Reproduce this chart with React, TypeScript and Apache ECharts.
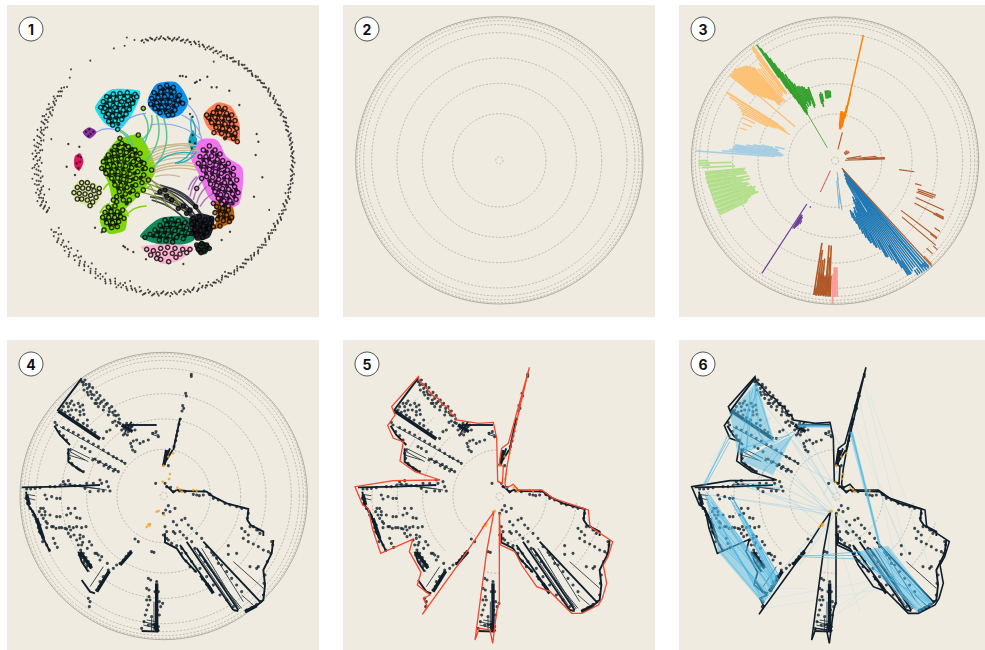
import React, { useEffect, useRef } from "react";
import * as echarts from "echarts";

type P = [number, number];

const panelLabels = ["1", "2", "3", "4", "5", "6"];
const ringRadii = [11, 140, 231, 307, 383, 407, 419, 427];
const outerRadius = 431;

// ---- panel 1: network
const looseNodes: [number, number][] = [
  [350,378],[351,372],[352,381],[353,376],[354,384],[355,379],[356,375],[357,383],[358,378],[359,386],[0,381],[1,376],[2,384],[3,379],[4,374],[5,383],[6,378],[7,386],[8,376],[9,381],[10,373],[11,383],[12,377],[13,371],[14,382],[15,376],[16,385],[17,372],[18,380],[19,375],[20,369],[21,381],[22,374],[23,383],[24,369],[25,378],[26,372],[27,382],[28,367],[29,376],[30,381],[31,371],[32,378],[33,384],[34,374],[35,379],[36,385],[37,376],[38,382],[39,387],[40,378],[41,384],[42,379],[43,386],[44,382],[45,378],[46,385],[47,388],[48,380],[49,386],[50,383],[51,389],[52,380],[53,386],[54,391],[55,383],[56,388],[57,381],[58,392],[59,385],[60,390],[61,382],[62,387],[63,393],[64,384],[65,389],[66,392],[67,382],[68,388],[69,394],[70,384],[71,390],[72,386],[73,392],[74,383],[75,388],[76,394],[77,385],[78,391],[79,388],[80,393],[81,384],[82,390],[83,386],[84,393],[85,388],[86,384],[87,391],[88,387],[89,394],[90,385],[91,390],[92,382],[93,388],[94,393],[95,384],[96,389],[97,385],[98,392],[99,379],[100,387],[101,383],[102,390],[103,376],[104,386],[105,392],[106,382],[107,388],[108,378],[109,385],[110,391],[111,381],[112,387],[113,377],[114,384],[115,390],[116,380],[117,386],[118,375],[119,383],[120,389],[121,379],[122,385],[123,375],[124,382],[125,388],[126,377],[127,384],[128,390],[129,380],[130,386],[131,376],[132,383],[133,389],[134,379],[135,385],[136,378],[137,388],[138,382],[139,375],[140,386],[141,379],[142,390],[143,383],[144,376],[145,387],[146,381],[147,391],[148,384],[149,378],[150,388],[151,382],[152,376],[153,386],[154,392],[155,380],[156,387],[157,383],[158,391],[159,376],[160,385],[161,389],[162,381],[163,371],[164,386],[165,392],[166,379],[167,385],[168,390],[169,381],[170,387],[171,393],[172,378],[173,384],[174,390],[175,381],[176,388],[177,394],[178,383],[179,389],[180,379],[181,385],[182,392],[183,381],[184,387],[185,393],[186,382],[187,377],[188,388],[189,394],[190,383],[191,373],[192,389],[193,380],[194,386],[195,376],[196,391],[197,382],[198,372],[199,388],[200,378],[201,393],[202,384],[203,370],[204,389],[205,379],[206,395],[207,385],[208,368],[209,390],[210,378],[211,395],[212,384],[213,372],[214,391],[215,380],[216,365],[217,395],[218,385],[219,374],[220,393],[221,381],[222,369],[223,390],[224,377],[225,364],[226,395],[227,384],[228,372],[229,392],[230,380],[231,366],[232,389],[233,376],[234,394],[235,384],[236,370],[237,392],[238,380],[239,366],[240,388],
  [248,378],[248.7,372],[249.4,366],[250,383],[251,375],[251.7,389],[252.4,369],[253,381],[254,393],[254.6,374],[255.3,385],[256,368],[257,378],[257.7,391],[258.5,373],[259,384],[260,366],[261,378],[261.6,390],[262.4,371],[263,383],[264,395],[264.6,364],[265.3,376],[266,387],[267,369],[268,381],[268.6,393],[269.4,374],[270,385],[271,365],[272,378],[272.6,390],[273.4,370],[274,382],[275,394],[275.6,375],[276.4,386],[277,366],[278,379],[278.6,391],[279.4,372],[280,384],[281,395],[281.6,367],[282.4,377],[283,388],[284,370],[285,381],[285.6,392],[286.4,374],[287,384],[288,366],[289,377],[289.6,388],[290.4,370],[291,380],[292,391],[292.6,373],[293.4,383],[294,366],[295,376],[295.6,387],[296.4,370],[297,380],[298,389],[299,372],[300,381],[301,375],[302,388],[303,379],[304,370],[305,384],[306,376],[307,383],[308,378],[309,372],
  [313,384],[316,399],[325,382],[337,380],[342,376],[344,398],[347,385],
  [26,345],[113,345],[150,370],[196,362],[258,350],[283,345]
];
const looseNodesDense: [number, number][] = [
  [350.5,380],[352.5,378],[354.5,381],[356.5,378],[358.5,381],[0.5,378],[2.5,380],[4.5,378],[6.5,381],[8.5,378],[10.5,380],[12.5,378],[14.5,379],[16.5,377],[18.5,378],[20.5,376],[22.5,378],[24.5,375],[26.5,378],[28.5,374],[30.5,377],[32.5,380],[34.5,377],[36.5,380],[38.5,383],[40.5,381],[42.5,383],[44.5,380],[46.5,383],[48.5,384],[50.5,386],[52.5,384],[54.5,387],[56.5,385],[58.5,387],[60.5,386],[62.5,389],[64.5,387],[66.5,386],[68.5,390],[70.5,388],[72.5,389],[74.5,386],[76.5,389],[78.5,387],[80.5,389],[82.5,388],[84.5,389],[86.5,388],[88.5,389],[90.5,387],[92.5,386],[94.5,388],[96.5,387],[98.5,386],[100.5,385],[102.5,384],[104.5,387],[106.5,385],[108.5,383],[110.5,386],[112.5,384],[114.5,387],[116.5,383],[118.5,381],[120.5,384],[122.5,381],[124.5,385],[126.5,381],[128.5,385],[130.5,381],[132.5,385],[134.5,382],[136.5,384],[138.5,379],[140.5,383],[142.5,386],[144.5,382],[146.5,385],[148.5,381],[150.5,384],[152.5,381],[154.5,386],[156.5,384],[158.5,386],[160.5,383],[162.5,385],[164.5,389],[166.5,383],[168.5,386],[170.5,384],[172.5,381],[174.5,386],[176.5,384],[178.5,386],[180.5,383],[182.5,387],[184.5,390],[186.5,386],[188.5,391],[190.5,386],[192.5,384],[194.5,382],[196.5,387],[198.5,380],[200.5,385],[202.5,378],[204.5,383],[206.5,390],[208.5,381],[210.5,386],[212.5,379],[214.5,386],[216.5,378],[218.5,381],[220.5,387],[222.5,376],[224.5,383],[226.5,390],[228.5,380],[230.5,386],[232.5,382],[234.5,389],[236.5,377],[238.5,385],
  [248.3,375],[250.5,379],[252,385],[253.5,376],[255,380],[256.5,384],[258,378],[259.5,372],[261,384],[262.7,377],[264,370],[265.7,381],[267.5,375],[269,387],[270.5,379],[272.3,372],[273.7,385],[275.3,381],[276.8,372],[278.3,385],[279.7,378],[281.3,374],[282.7,382],[284.5,376],[286,380],[287.5,371],[289.3,382],[291,375],[292.3,386],[294.5,372],[296,382],[297.5,375],[299.5,377],[301.5,382],[303.5,375],[305.5,380]
];
const cyanNodes: P[] = [[320,290],[340,282],[360,280],[382,278],[405,283],[310,305],[330,300],[350,298],[372,296],[392,298],[410,290],[302,322],[320,318],[340,316],[360,314],[380,314],[398,310],[310,335],[330,332],[350,332],[370,330],[388,328],[318,350],[338,348],[358,346],[378,342],[326,364],[345,362],[365,358],[338,375],[353,388],[315,325],[345,322],[365,305],[385,302],[325,342]];
const blueNodes: P[] = [[480,262],[500,256],[520,262],[462,278],[482,276],[502,272],[522,276],[538,286],[455,295],[474,292],[494,290],[514,290],[534,300],[452,312],[470,308],[490,306],[510,306],[530,315],[548,310],[465,325],[485,322],[505,322],[525,330],[480,338],[500,338],[518,344],[505,345]];
const salmonNodes: P[] = [[655,322],[675,325],[640,338],[660,338],[680,340],[695,345],[625,352],[645,352],[665,354],[685,356],[705,362],[635,368],[655,368],[675,372],[695,372],[710,385],[648,382],[668,386],[688,390],[705,400],[665,400],[685,405],[700,415],[712,425],[620,345],[642,398]];
const magentaNodes: P[] = [[610,450],[628,438],[645,450],[660,462],[600,470],[618,470],[635,468],[652,478],[668,482],[685,490],[595,490],[612,490],[630,488],[648,495],[665,500],[682,510],[700,505],[610,510],[628,508],[646,515],[664,520],[682,530],[700,525],[620,530],[638,532],[656,538],[674,548],[692,548],[710,540],[632,552],[650,556],[668,566],[686,568],[704,560],[645,575],[662,584],[680,586],[698,582],[714,578],[655,595],[672,603],[690,602],[708,598],[665,612],[685,618],[640,610],[605,535],[590,565]];
const limeNodes: P[] = [[345,440],[365,430],[385,440],[405,450],[420,460],[325,465],[343,460],[361,455],[379,458],[397,465],[415,478],[432,490],[310,485],[328,482],[346,478],[364,475],[382,478],[400,485],[418,495],[436,505],[455,510],[305,505],[323,500],[341,498],[359,495],[377,498],[395,503],[413,515],[431,525],[318,520],[336,516],[354,515],[372,518],[390,522],[408,535],[426,548],[335,535],[353,534],[371,538],[389,542],[407,555],[345,555],[363,556],[381,562],[399,572],[412,585],[358,575],[376,582],[388,600],[370,600],[350,605],[350,590],[430,570],[445,540],[430,325],[415,405],[360,415],[340,600]];
const limeSmallNodes: P[] = [[325,622],[345,618],[315,637],[333,635],[352,635],[368,630],[308,652],[326,652],[344,652],[362,650],[320,668],[338,668],[356,665],[335,683],[352,680],[312,690],[372,655]];
const paleNodes: P[] = [[245,548],[262,548],[278,558],[232,562],[248,564],[265,566],[282,572],[297,578],[222,578],[238,580],[255,582],[272,586],[288,592],[245,597],[262,600],[278,606],[270,617],[232,597],[298,565]];
const darkGreenNodes: P[] = [[495,660],[515,658],[535,662],[555,668],[480,676],[500,674],[520,674],[540,680],[560,684],[465,690],[485,690],[505,690],[525,692],[545,698],[565,700],[450,703],[470,705],[490,706],[510,708],[530,712],[550,716],[435,712],[478,720],[498,722],[518,726]];
const pinkNodes: P[] = [[440,748],[460,752],[482,745],[503,742],[525,745],[548,748],[570,748],[452,765],[474,762],[495,760],[517,760],[540,762],[560,758],[482,778],[506,785],[528,772],[470,775]];
const brownNodes: P[] = [[650,620],[668,625],[685,630],[645,638],[662,642],[680,645],[695,652],[652,658],[670,662],[688,665],[660,678],[640,680]];
const blackNodes: P[] = [[580,655],[598,650],[615,660],[630,670],[575,672],[592,670],[610,678],[628,685],[585,688],[602,692],[620,698],[590,705],[608,712],[575,700],[635,655]];
const greySmallNodes: P[] = [[590,735],[605,730],[620,735],[595,748],[612,750],[603,758],[628,745],[587,620],[570,630],[550,618],[560,640],[535,625],[515,600],[495,570],[480,575],[500,588]];
const tinyNodes: P[] = [[258,395],[268,388],[280,395],[265,408],[272,402],[235,468],[240,485],[230,490],[235,505],[243,472],[578,405],[570,425],[585,430],[575,445],[578,350],[570,342],[548,228],[558,230],[540,228],[590,245],[600,240],[585,248],[635,262],[650,262],[375,742],[383,748],[370,738],[400,756],[305,697],[285,683],[570,296],[718,315],[767,465],[762,590],[770,402],[787,532],[665,720],[690,695],[550,792],[438,778],[225,525],[238,440],[200,500],[205,432],[688,272],[622,230],[775,425]];
const coreSpeckle: P[] = [
  [330,290],[350,290],[372,287],[393,288],[320,308],[340,307],[361,305],[381,306],[401,303],[311,320],[330,325],[352,323],[371,322],[389,320],[320,340],[340,340],[360,338],[379,335],[330,356],[350,354],[370,350],[335,370],[355,372],
  [490,268],[510,265],[472,284],[492,283],[512,282],[530,290],[464,300],[484,299],[504,298],[524,302],[460,316],[480,314],[500,314],[520,318],[475,330],[495,330],[515,334],[540,305],
  [650,330],[668,330],[688,348],[635,345],[655,345],[675,347],[630,360],[650,360],[670,362],[690,364],[645,375],[665,377],[685,380],[702,380],[658,392],[678,395],[695,405],[675,415],[706,410],
  [620,455],[637,455],[650,465],[610,480],[627,478],[643,485],[660,490],[676,498],[603,500],[620,500],[638,503],[656,508],[674,515],[692,518],[618,520],[636,520],[654,527],[672,535],[690,538],[628,542],[646,545],[663,552],[681,558],[700,553],[640,565],[657,570],[675,575],[693,573],[708,570],[650,585],[668,593],[686,595],[703,590],[660,603],[680,610],[698,610],[672,618],
  [355,435],[375,435],[395,447],[335,452],[352,450],[370,448],[388,452],[407,460],[318,475],[336,470],[354,468],[372,466],[390,470],[406,475],[425,485],[320,492],[338,490],[355,487],[373,487],[391,492],[409,497],[428,508],[314,510],[332,508],[350,506],[368,507],[386,511],[404,520],[422,534],[327,526],[345,524],[363,527],[381,530],[399,538],[342,545],[360,545],[378,550],[396,558],[354,565],[372,568],[390,578],[366,590],[380,610],
  [335,628],[325,643],[343,643],[360,642],[317,660],[335,660],[353,658],[330,676],[348,674],
  [505,667],[525,668],[545,672],[490,683],[510,682],[530,684],[550,690],[475,697],[495,698],[515,700],[535,704],[555,708],[460,708],[480,712],[500,715],[520,718],
  [658,632],[675,635],[655,650],[672,652],[688,656],
  [590,662],[607,668],[622,678],[583,680],[600,682],[618,688],[596,698],[612,702],[582,695]
];
const cyanBlob: P[] = [[285,320],[330,270],[418,272],[420,290],[395,345],[360,388],[320,375],[295,345]];
const blueBlob: P[] = [[443,300],[470,252],[530,248],[565,305],[540,345],[490,355],[450,325]];
const salmonBlob: P[] = [[610,345],[650,308],[692,318],[718,370],[715,428],[665,412],[625,385]];
const magentaBlob: P[] = [[572,470],[600,420],[650,420],[680,470],[727,505],[718,610],[670,628],[625,590],[595,520]];
const limeBlob: P[] = [[302,490],[345,425],[370,412],[420,405],[467,510],[412,590],[375,625],[345,620],[325,550]];
const limeSmallBlob: P[] = [[300,650],[340,610],[378,640],[375,690],[330,702],[305,680]];
const paleBlob: P[] = [[215,577],[240,540],[290,553],[306,580],[280,622],[235,605]];
const darkGreenBlob: P[] = [[420,708],[480,655],[570,655],[582,720],[510,738],[450,725]];
const pinkBlob: P[] = [[423,740],[520,733],[582,743],[540,780],[490,792],[455,770]];
const brownBlob: P[] = [[640,605],[697,620],[700,662],[640,688],[655,650]];
const blackBlob: P[] = [[568,655],[600,640],[642,655],[630,710],[590,722],[572,695]];
const deepGreenBlob: P[] = [[585,740],[605,724],[630,738],[618,762],[595,760]];
const purpleBlob: P[] = [[248,397],[268,382],[290,396],[268,416]];
const crimsonBlob: P[] = [[224,470],[240,460],[250,485],[238,512],[224,500]];
const tealBlob: P[] = [[565,425],[578,390],[592,425],[580,455]];
const tanEdges: [P, P][] = [[[445,465],[590,437]],[[450,472],[595,445]],[[452,480],[600,452]],[[448,487],[590,465]],[[455,495],[580,475]],[[458,505],[590,492]],[[462,512],[585,500]],[[450,455],[580,433]],[[455,520],[590,510]],[[465,530],[540,530]],[[440,450],[570,440]]];
const greenEdges: [P, P][] = [[[490,352],[460,505]],[[470,345],[435,485]],[[455,345],[425,420]],[[430,340],[432,430]],[[355,388],[400,445]],[[360,395],[385,430]]];
const blueEdges: [P, P][] = [[[355,388],[438,340]],[[290,396],[352,392]],[[450,375],[612,425]],[[560,310],[598,405]],[[545,345],[605,415]]];
const tealEdges: [P, P][] = [[[572,350],[582,420]],[[580,440],[525,490]],[[590,455],[530,490]],[[470,490],[580,460]],[[590,420],[575,350]]];
const darkEdges: [P, P][] = [[[470,560],[600,670]],[[480,555],[610,650]],[[460,590],[590,660]],[[455,600],[580,690]],[[490,565],[615,665]],[[475,575],[600,690]],[[465,580],[575,640]],[[500,562],[590,620]],[[450,590],[610,690]]];
const oliveEdges: [P, P][] = [[[420,530],[560,640]],[[415,545],[550,625]],[[410,560],[540,625]],[[430,520],[500,620]],[[405,575],[520,630]],[[440,545],[470,610]]];
const purpleEdges: [P, P][] = [[[570,590],[600,525]],[[580,600],[610,540]],[[590,610],[620,560]],[[600,620],[640,580]],[[565,570],[590,530]]];
const limeEdges: [P, P][] = [[[345,600],[385,650]],[[375,650],[440,618]],[[310,570],[340,545]],[[300,640],[330,610]],[[420,580],[450,560]],[[345,540],[345,610]]];

// ---- panel 3: radial strokes, [angle, inner radius, outer radius]
const orangeStrokes: [number, number, number][] = [[12.7,150,387],[7,105,150],[8,97,150],[9,95,148],[10,95,145],[11,100,150],[12,105,170],[13,130,210]];
const darkGreenStrokes: [number, number, number][] = [[326,300,420],[326.5,260,405],[327,240,385],[327.5,220,365],[328,200,345],[328.5,170,325],[329,160,310],[330,165,300],[330.5,170,280],[331,185,270],[332,175,262],[333,190,250],[334,180,250],[335,195,245],[336,180,245],[337,185,240],[338,195,232],[339,170,230],[340,175,235],[347,175,205],[348,165,210],[349,180,205],[352,188,212],[353,188,212],[354,188,212],[355,190,212],[356,190,210]];
const thinGreenStrokes: [number, number, number][] = [[329.5,45,165]];
const lightOrangeStrokes: [number, number, number][] = [[324.5,250,424],[324,245,422],[323.5,250,420],[323,260,395],[322,255,370],[321,250,355],[320,230,360],[319,235,370],[318.5,240,375],[318,240,380],[317.5,235,385],[317,235,390],[316.5,240,392],[316,240,395],[315.5,235,395],[315,235,397],[314.5,260,400],[314,260,400],[313.5,270,403],[313,270,405],[312.5,280,408],[312,280,408],[311.5,290,405],[311,290,405],[310.5,300,405],[310,300,405],[309.5,310,406],[309,310,406],[310.4,157,320],[300,155,340],[302,180,385],[302.5,200,385],[301,170,370],[299,200,330],[298,210,320],[297,225,314],[295,265,305],[292,270,300],[289,280,301]];
const skyStrokes: [number, number, number][] = [[274,180,420],[275,160,340],[276,155,320],[277,160,310],[278,165,305],[279,175,305],[280,170,270],[281,175,250],[282,190,225],[283,155,185],[275.5,200,300],[276.5,170,310],[277.5,190,305],[278.5,190,300]];
const lightGreenStrokes: [number, number, number][] = [[269,310,410],[268,375,410],[270,380,410],[267,300,400],[265,270,392],[264,275,392],[263,268,390],[262,267,392],[261,300,390],[260,262,390],[259,280,388],[258,260,388],[257,285,386],[256,270,385],[255,265,385],[254,275,384],[253,260,384],[252,250,383],[251,255,383],[250,255,382],[249,255,382],[248,248,381],[247,275,381],[246,285,381],[245,292,381],[264.5,340,392],[262.5,330,392],[260.5,320,390],[258.5,320,388],[256.5,320,386],[254.5,320,384],[252.5,300,383],[250.5,300,382],[248.5,300,381],[246.5,330,381]];
const purpleStrokes: [number, number, number][] = [[213,155,403],[212,190,240],[211,190,238],[210,195,225],[209,205,218],[208,155,160],[211.5,195,235],[210.5,195,230]];
const redStrokes: [number, number, number][] = [[205,33,104]];
const brownBottomStrokes: [number, number, number][] = [[182,345,408],[183,290,408],[184,254,408],[185,350,408],[186,295,408],[187,300,408],[188,270,408],[189,250,408],[183.5,350,405],[184.5,345,405],[185.5,345,405],[186.5,345,405],[187.5,345,405],[188.5,385,408],[182.5,255,408],[184,300,408],[186,320,405],[187,340,408],[188,330,408]];
const pinkStrokes: [number, number, number][] = [[179,320,408],[179.7,320,408],[180.4,320,408],[181,340,430]];
const blueStrokes: [number, number, number][] = [[138.5,35,425],[139.5,60,420],[140.5,75,415],[141,40,410],[142,70,405],[143,80,400],[144,50,400],[145,90,405],[146,50,410],[147,70,408],[148,180,380],[149,60,360],[150,130,345],[151,70,330],[152,130,327],[153,140,300],[154,120,290],[155,130,280],[156,150,270],[157,170,260],[158,150,250],[159,160,235],[160,180,220],[161,165,200],[162,160,190],[163,155,180],[139,405,428],[140,405,428],[141,405,426],[142,405,426],[143,405,424],[144,405,424],[147.5,300,408],[146.5,360,410],[151.5,270,330],[154.5,240,290],[156.5,220,270]];
const paleBlueStrokes: [number, number, number][] = [[172,50,150],[175,60,145],[173,100,130],[170,35,60]];
const brownStrokes: [number, number, number][] = [[137.5,30,430],[14.5,35,88],[88,30,150],[87,90,148],[86.5,85,150],[86,70,130],[84,40,125],[80,35,80],[60,35,50],[55,35,50],[50,35,48],[98,194,240],[106,250,270],[109,262,320],[110,265,320],[111,262,315],[114.5,266,359],[118,270,370],[118.4,335,370],[117.5,340,368],[127,248,384],[127.5,360,385],[130,262,395],[131,390,408],[133.7,380,405],[137,392,425],[124,360,380]];

// ---- panels 4, 5, 6: the same tree
const treeDots: P[] = [
  [574,118],[574,124],[557,175],[559,183],[548,212],[551,220],[546,228],[541,252],[537,268],[533,288],[530,302],[527,317],[522,335],[467,445],[490,390],[505,392],[495,445],[500,455],[512,457],
  [580,478],[598,482],[610,480],[628,478],[590,480],[725,580],[735,590],[745,600],[730,610],[745,620],[760,627],[775,635],[790,645],[805,650],[750,575],[770,585],[780,595],[710,655],[685,632],[685,658],[750,695],[775,695],[770,700],
  [525,520],[510,530],[490,535],[497,525],[505,512],[555,550],[545,555],[520,560],[530,570],[565,570],[575,580],[590,595],[605,610],[520,590],[495,575],[500,590],[525,595],[540,590],[550,600],[560,610],[490,600],[505,615],[620,635],[635,652],[650,670],[665,690],[680,710],[695,730],[710,750],[725,770],[575,620],[585,640],[600,660],[615,680],[640,660],[655,685],
  [405,612],[415,620],[455,650],[462,652],[350,690],[340,700],[325,705],[322,685],[295,660],[305,665],[290,655],[275,630],[268,620],[250,605],[245,630],[262,640],[240,600],[230,575],[245,578],[258,575],[220,578],[208,575],[195,580],[178,578],[160,575],[140,578],[120,570],[205,520],[212,535],[225,520],[200,540],[230,548],[240,550],[180,545],[170,545],[150,540],[130,520],[135,530],[125,540],[130,550],[138,560],[160,610],[165,625],[172,637],[240,610],[248,622],
  [135,480],[155,485],[170,490],[180,490],[140,492],
  [300,435],[320,440],[305,445],[325,455],[330,468],[310,468],[295,468],[270,470],[255,460],[260,445],[280,445],[205,437],[190,440],[180,452],[165,455],
  [375,385],[365,378],[350,370],[340,365],[325,355],[310,345],[295,335],[280,327],[265,318],[250,310],[235,300],[220,292],[205,285],[190,278],[355,410],[345,403],[330,395],[318,388],[300,380],[285,372],[250,410],[240,405],[230,398],[215,385],[270,350],[255,340],[245,335],[310,310],[320,290],[330,285],
  [245,140],[250,150],[262,160],[272,170],[282,180],[295,190],[305,200],[318,208],[328,220],[338,232],[348,242],[358,252],[255,135],[268,148],[278,158],[290,172],[300,182],[312,195],[322,205],[335,215],[345,228],[355,240],[265,180],[275,190],[285,205],[295,215],[310,225],[325,240],[338,262],[350,272],[240,230],[250,225],[240,240],[215,198],[222,210],[228,225],[205,215],[190,215],[370,270],[380,265],[390,280],[375,295],[385,290],[395,275],[365,285],[400,270],
  [400,318],[410,315],[392,325],[398,345],[405,350],[395,335],[430,320],[445,315],[420,325],[468,290],[458,295],[475,305],
  [470,740],[445,730],[452,735],[440,760],[447,765],[440,795],[450,795],[440,825],[478,800],[488,805],[478,840],[432,860],[425,880],[270,800],[268,815],[265,790],[472,825],[455,845],
  [250,142],[258,148],[268,155],[252,165],[262,172],[275,178],[288,195],[300,205],[290,205],[312,215],[328,230],[342,240],[355,262],[345,258],[360,265],[372,280],[382,300],[392,272],[405,285],[370,300],[210,205],[200,205],[185,225],[195,232],[210,240],[220,248],[233,255],[250,265],[262,272],[275,285],[285,292],[240,215],[248,210],[235,205],[252,238],[262,255],[205,228],[215,225],[170,270],[178,290],[190,302],[200,315],[165,262],[210,345],[205,355],[208,370],[218,390],[235,402],[278,375],[295,382],[312,392],[325,400],[340,408],
  [80,462],[92,462],[105,460],[120,458],[150,455],[195,448],[210,448],[225,452],[240,452],[78,490],[82,505],[90,520],[98,530],[105,545],[110,560],[115,578],[122,595],[130,610],[140,630],[148,645],[100,540],[108,552],[118,590],[128,620],
  [122,520],[118,530],[135,540],[142,565],[155,575],[168,580],[185,578],[200,582],[212,585],[205,595],[212,605],[222,600],[230,615],[235,630],[242,645],[250,655],[258,668],[265,680],[272,690],[285,655],[300,675],[238,660],[245,668],[252,680],[260,695],
  [290,765],[297,755],[304,745],[311,735],[318,722],[325,712],[300,740],[310,725],[370,675],[378,665],[386,655],[392,650],[360,685],[447,785],[445,810],[436,840],[445,870],[455,870],[465,880],[475,875],[482,815],[465,770],[475,770],
  [500,610],[515,625],[530,632],[545,655],[558,678],[570,695],[585,708],[607,732],[620,748],[632,762],[545,640],[558,655],[575,680],[600,700],[620,725],[640,750],[660,780],[680,795],[700,815],[740,825],[755,818],[770,808],[782,800],[790,780],[792,745],[795,720],[802,680],[812,655],[818,630],[815,620],[640,490],[655,495],[675,505],[690,510],[710,515],[725,520],[745,535],[742,550],[760,575],[775,585],[520,470],[538,468],[555,470],[612,468],[630,478]
];
const orangeDots: P[] = [[520,355],[505,365],[488,440],[510,417],[507,432],[532,458],[540,463],[545,470],[580,465],[590,467],[470,530],[476,528],[492,540],[450,567],[445,568],[440,576],[448,572],[490,392]];
const treeThickLines: P[][] = [
  [[498,452],[508,460],[520,472],[530,465]],
  [[530,465],[560,468],[620,470],[640,485],[680,505],[745,522],[742,555],[752,570],[790,590],[790,603]],
  [[735,830],[770,812],[790,795],[795,750],[790,705],[815,655],[820,615]],
  [[610,620],[780,800]],
  [[495,595],[495,622],[530,640],[550,670],[590,712]],
  [[600,722],[635,765]],
  [[425,888],[475,890]],
  [[245,735],[270,770],[285,775]],[[235,650],[245,680],[265,710]],
  [[78,470],[85,510],[105,540],[120,590],[150,650]],
  [[65,457],[180,455],[300,450]],
  [[245,130],[215,170],[185,210],[172,228]],
  [[163,272],[180,300],[210,330]],[[205,340],[205,380],[225,395],[250,412]],
  [[375,270],[470,270]],[[540,250],[520,345]],[[518,345],[490,390]],[[510,340],[492,385]],
  [[700,825],[715,828]],[[375,290],[395,260]],[[590,640],[715,825]],[[560,620],[700,825]],[[540,630],[635,765]]
];
const treeHeavyLines: P[][] = [
  [[360,690],[395,650]],[[290,770],[328,708]],[[470,745],[470,890]],[[240,650],[275,700]],[[175,228],[300,312]],[[365,270],[398,290]],[[80,480],[88,510]],[[110,550],[130,610]],[[500,345],[492,390]],[[462,865],[475,890]],[[770,812],[735,830]],[[640,775],[620,745]]
];
const treeThinLines: P[][] = [
  [[600,650],[720,822]],[[580,640],[695,810]],[[620,690],[725,820]],[[700,680],[790,760]],[[725,780],[765,815]],[[630,640],[730,800]],[[605,640],[712,815]],
  [[215,450],[320,465]],[[180,447],[300,462]],[[78,478],[105,482]],[[78,488],[105,495]],[[210,340],[270,370]],[[210,350],[265,380]],[[205,360],[255,375]],[[275,368],[355,410]],[[180,275],[375,385]],[[455,292],[478,300]],[[455,298],[478,305]],
  [[270,755],[310,695]],[[240,660],[275,690]],[[245,680],[275,700]],[[250,690],[270,710]],[[430,860],[470,870]],[[430,870],[470,880]],[[462,800],[462,890]],[[455,850],[455,890]],[[440,855],[470,860]]
];
const hull: P[] = [[484,440],[481,310],[471,262],[426,265],[361,255],[355,240],[345,238],[333,215],[320,210],[305,190],[290,182],[275,165],[262,150],[250,140],[246,125],[166,215],[176,240],[154,272],[171,310],[201,320],[191,378],[236,410],[311,435],[171,437],[56,455],[79,510],[96,520],[108,580],[133,655],[229,613],[219,650],[254,712],[243,750],[281,780],[261,790],[273,815],[258,838],[361,695],[419,610],[448,565],[473,530],[451,650],[416,915],[429,880],[461,885],[469,925],[481,830],[489,800],[489,535],[493,630],[536,650],[556,690],[601,755],[641,770],[706,835],[736,835],[786,810],[798,790],[811,745],[801,690],[815,665],[829,620],[761,575],[756,525],[651,490],[616,465],[546,465],[531,448],[508,460],[506,445],[511,400],[523,335],[579,97],[516,325],[496,340],[489,385],[501,395],[498,445],[484,440]];
const visibleArcs: [number, number, number][] = [[140,212,357],[140,85,178],[231,225,320],[231,95,135],[231,180,190],[307,105,135],[307,293,320],[307,260,280],[383,262,275],[383,315,320],[11,0,360]];
const bundleFills: P[][] = [
  [[95,470],[135,650],[270,808],[312,745]],
  [[172,478],[205,535],[320,735],[300,755]],
  [[552,650],[645,632],[782,805],[735,835]],
  [[250,140],[170,235],[195,360],[305,320]],
  [[360,300],[235,360],[205,380],[300,420]],
  [[370,265],[470,270],[470,278],[375,278]],
  [[528,290],[540,290],[625,635],[618,635]]
];
const brightEdges: [P, P][] = [
  [[95,480],[270,800]],[[100,500],[275,800]],[[105,530],[280,795]],[[110,550],[285,790]],[[115,580],[290,785]],[[125,610],[295,780]],[[135,640],[270,800]],[[100,470],[300,770]],[[110,480],[305,760]],[[120,520],[310,750]],[[115,500],[290,760]],[[130,560],[300,760]],
  [[175,480],[310,730]],[[180,490],[315,735]],[[170,490],[305,745]],[[185,500],[320,725]],[[190,510],[315,720]],[[200,530],[312,745]],[[178,500],[300,730]],
  [[560,650],[745,830]],[[580,640],[755,825]],[[600,635],[765,820]],[[620,630],[775,815]],[[640,640],[775,805]],[[560,670],[730,820]],[[555,650],[720,820]],[[590,650],[740,810]],[[610,640],[770,800]],[[600,700],[760,800]],[[560,680],[770,800]],[[630,640],[700,820]],
  [[250,150],[215,370]],[[240,160],[195,350]],[[245,150],[260,300]],[[250,155],[300,320]],[[360,290],[240,360]],[[375,270],[470,270]],[[378,275],[470,275]],[[365,295],[255,430]],[[260,160],[210,260]],[[230,170],[220,360]],[[210,220],[280,330]],[[350,300],[205,340]],
  [[535,290],[620,635]],[[538,295],[622,635]],[[95,450],[165,300]],[[90,450],[190,270]],[[98,452],[170,320]],
  [[380,660],[560,660]],[[385,665],[550,672]],[[445,660],[560,650]],
  [[200,445],[310,450]],[[180,450],[320,460]]
];
const softEdges: [P, P][] = [
  [[470,530],[300,440]],[[470,530],[200,450]],[[470,530],[110,480]],[[475,525],[240,330]],[[480,520],[340,290]],[[490,500],[375,300]],[[470,540],[260,300]],[[465,545],[180,440]],[[440,570],[230,380]],[[470,530],[190,310]],[[500,500],[245,170]],[[490,530],[620,680]],[[480,545],[300,750]],[[485,540],[380,690]],[[440,575],[330,700]],[[500,480],[400,300]],[[515,350],[470,280]],[[510,380],[450,480]],[[500,450],[300,350]],[[470,540],[460,830]],[[490,600],[760,790]],[[620,470],[700,660]],[[470,520],[720,800]],[[360,290],[480,480]],[[120,480],[480,540]]
];
const faintEdges: [P, P][] = [[[575,150],[700,650]],[[590,180],[770,700]],[[560,200],[660,640]],[[275,820],[640,760]],[[300,790],[700,720]],[[430,850],[620,740]],[[460,860],[700,700]],[[490,840],[640,700]],[[90,450],[50,500]],[[110,380],[170,310]],[[105,420],[160,300]],[[540,250],[640,500]],[[490,600],[560,830]],[[400,760],[290,760]]];

const PAPER = "#efebe0";
const INK = "#101f2b";
const RING = "#a7a59b";

type Win = [number, number, number, number];
const rects: number[][] = [[7,5,312,312],[343,5,312,312],[679,5,306,312],[7,340,312,310],[343,340,312,310],[679,340,306,310]];
const windows: Win[] = [[21,957,15,951],[9,945,15,951],[12,930,15,951],[21,957,15,945],[20,956,15,945],[18,936,15,945]];

const onGrid = (g: number) => ({ coordinateSystem: "cartesian2d", xAxisIndex: g, yAxisIndex: g, silent: true });

const dots = (g: number, data: P[], size: number, color: string, extra: any = {}) => ({
  type: "scatter", ...onGrid(g), data, symbolSize: size,
  itemStyle: { color, ...extra }, z: 5
});
const edges = (g: number, data: [P, P][], color: string, width: number, opacity: number, curveness = 0, z = 3) => ({
  type: "lines", ...onGrid(g), z,
  data: data.map((c) => ({ coords: c })),
  lineStyle: { color, width, opacity, curveness }
});
const polylines = (g: number, data: P[][], color: string, width: number, z = 4) => ({
  type: "lines", ...onGrid(g), polyline: true, z,
  data: data.map((c) => ({ coords: c })),
  lineStyle: { color, width, opacity: 1, curveness: 0 }
});
const blob = (g: number, pts: P[], fill: string, opacity = 1, smooth = 0.25, z = 2) => ({
  type: "custom", ...onGrid(g), z, data: [pts[0]],
  renderItem: (_: any, api: any) => ({
    type: "polygon",
    shape: { points: pts.map((p) => api.coord(p)), smooth },
    style: { fill, opacity }
  })
});
const rings = (g: number, cx: number, cy: number) => ({
  type: "custom", ...onGrid(g), z: 1,
  data: [...ringRadii, outerRadius].map((r) => [cx, cy, r]),
  renderItem: (_: any, api: any) => {
    const c = api.coord([api.value(0), api.value(1)]);
    const r = api.value(2);
    const solid = r === outerRadius;
    return {
      type: "circle",
      shape: { cx: c[0], cy: c[1], r: api.size([r, r])[0] },
      style: { fill: "none", stroke: solid ? "#9c9b95" : RING, lineWidth: solid ? 0.8 : 0.7, lineDash: solid ? null : [2, 1.6] }
    };
  }
});
const arcs = (g: number, cx: number, cy: number) => ({
  type: "custom", ...onGrid(g), z: 1,
  data: visibleArcs.map((a) => [cx, cy, a[0], a[1], a[2]]),
  renderItem: (_: any, api: any) => {
    const c = api.coord([api.value(0), api.value(1)]);
    const toRad = (d: number) => ((d - 90) * Math.PI) / 180;
    return {
      type: "arc",
      shape: { cx: c[0], cy: c[1], r: api.size([api.value(2), api.value(2)])[0], startAngle: toRad(api.value(3)), endAngle: toRad(api.value(4)), clockwise: true },
      style: { fill: "none", stroke: RING, lineWidth: 0.7, lineDash: [2, 1.6] }
    };
  }
});
const radial = (polar: number, data: [number, number, number][], stroke: string, lineWidth: number, opacity = 1) => ({
  type: "custom", coordinateSystem: "polar", polarIndex: polar, silent: true, z: 3,
  data: data.map((d) => [d[1], d[0], d[2]]),
  renderItem: (_: any, api: any) => {
    const a = api.coord([api.value(0), api.value(1)]);
    const b = api.coord([api.value(2), api.value(1)]);
    return { type: "line", shape: { x1: a[0], y1: a[1], x2: b[0], y2: b[1] }, style: { stroke, lineWidth, opacity } };
  }
});
const nodes = (data: P[], fill: string) => dots(0, data, 4.2, fill, { borderColor: "#050505", borderWidth: 1.45 });

const polarAxis = (maxR: number, i: number) => ({
  radius: { polarIndex: i, type: "value", min: 0, max: maxR, show: false, axisLine: { show: false }, axisTick: { show: false }, splitLine: { show: false }, axisLabel: { show: false } },
  angle: { polarIndex: i, type: "value", min: 0, max: 360, startAngle: 90, show: false, axisLine: { show: false }, axisTick: { show: false }, splitLine: { show: false }, axisLabel: { show: false } }
});

function buildOption() {
  const treeMarks = (g: number) => [
    polylines(g, treeThinLines, "#2d3a45", 0.9),
    polylines(g, treeThickLines, INK, 1.9),
    polylines(g, treeHeavyLines, INK, 3.4),
    dots(g, treeDots, 3.1, INK),
    dots(g, orangeDots, 2.6, "#f5a11c")
  ];
  const series: any[] = [
    // panel 1
    blob(0, cyanBlob, "#16e3ee"), blob(0, blueBlob, "#0d8fec"), blob(0, salmonBlob, "#ff7d52"), blob(0, magentaBlob, "#f273ee"),
    blob(0, limeBlob, "#7fd60a"), blob(0, limeSmallBlob, "#7fd60a"), blob(0, paleBlob, "#dce9a2"), blob(0, darkGreenBlob, "#0c8c5c"),
    blob(0, pinkBlob, "#ffb4d2"), blob(0, brownBlob, "#b5620f"), blob(0, blackBlob, "#20202a"), blob(0, deepGreenBlob, "#0d3d18"),
    blob(0, purpleBlob, "#8c2fa2"), blob(0, crimsonBlob, "#e2125f"), blob(0, tealBlob, "#0ea3c2"),
    edges(0, tanEdges, "#c9b58c", 1.3, 0.95, 0.15),
    edges(0, greenEdges, "#55c28a", 1.5, 0.95, 0.3),
    edges(0, blueEdges, "#7f9fee", 1.2, 0.95, 0.25),
    edges(0, tealEdges, "#1fa8b8", 1.3, 0.95, 0.25),
    edges(0, darkEdges, "#33333d", 1.6, 0.95, 0.2),
    edges(0, oliveEdges, "#7d8f3a", 1.2, 0.9, 0.2),
    edges(0, purpleEdges, "#a868b8", 1.5, 0.9, 0.15),
    edges(0, limeEdges, "#7fd60a", 1.7, 1, 0.25),
    dots(0, coreSpeckle, 4.4, "#060606"),
    nodes(cyanNodes, "#16e3ee"), nodes(blueNodes, "#0d8fec"), nodes(salmonNodes, "#ff7d52"), nodes(magentaNodes, "#f273ee"),
    nodes(limeNodes, "#7fd60a"), nodes(limeSmallNodes, "#7fd60a"), nodes(paleNodes, "#dce9a2"), nodes(darkGreenNodes, "#0c8c5c"),
    nodes(pinkNodes, "#ffb4d2"), nodes(brownNodes, "#b5620f"), nodes(blackNodes, "#20202a"), nodes(greySmallNodes, "#20202a"),
    dots(0, tinyNodes, 2.4, "#141414"),
    {
      type: "scatter", coordinateSystem: "polar", polarIndex: 0, silent: true, z: 5,
      data: [...looseNodes, ...looseNodesDense].map((d) => [d[1], d[0]]), symbolSize: 1.9, itemStyle: { color: "#1c1c1c" }
    },
    // panel 2
    rings(1, 478, 481),
    // panel 3
    rings(2, 480, 482),
    radial(1, orangeStrokes, "#ff7f00", 1.4),
    radial(1, lightOrangeStrokes, "#fdbf6f", 1.25),
    radial(1, darkGreenStrokes, "#33a02c", 1.6),
    radial(1, thinGreenStrokes, "#33a02c", 0.8),
    radial(1, skyStrokes, "#a6cee3", 1.5),
    radial(1, lightGreenStrokes, "#b2df8a", 1.8),
    radial(1, purpleStrokes, "#6a3d9a", 1.2),
    radial(1, redStrokes, "#e0505c", 1),
    radial(1, pinkStrokes, "#fb9a99", 1.7),
    radial(1, brownBottomStrokes, "#b15928", 1.6),
    radial(1, blueStrokes, "#1f78b4", 1.4),
    radial(1, paleBlueStrokes, "#6aa6d0", 0.8),
    radial(1, brownStrokes, "#b15928", 1.1),
    // panel 4
    rings(3, 491, 483),
    ...treeMarks(3),
    // panel 5
    arcs(4, 490, 484),
    ...treeMarks(4),
    polylines(4, [hull], "#f2472f", 1.3, 6),
    // panel 6
    arcs(5, 490, 484),
    edges(5, faintEdges, "#cfe4e4", 0.8, 0.7, 0, 2),
    edges(5, softEdges, "#9fd3e8", 0.9, 0.55, 0, 2),
    ...treeMarks(5),
    ...bundleFills.map((b) => blob(5, b, "#55bde8", 0.5, 0, 6)),
    edges(5, brightEdges, "#45b4e6", 0.9, 0.7, 0, 6),
    polylines(5, [hull], INK, 1.6, 5)
  ];
  const p0 = polarAxis(400, 0);
  const p1 = polarAxis(431, 1);
  return {
    animation: false,
    backgroundColor: "#ffffff",
    grid: rects.map((r) => ({ left: r[0], top: r[1], width: r[2], height: r[3], show: true, backgroundColor: PAPER, borderWidth: 0, containLabel: false })),
    xAxis: windows.map((w, i) => ({ type: "value", gridIndex: i, min: w[0], max: w[1], show: false })),
    yAxis: windows.map((w, i) => ({ type: "value", gridIndex: i, min: w[2], max: w[3], inverse: true, show: false })),
    polar: [
      { center: [490 / 3, 495 / 3], radius: [0, 400 / 3] },
      { center: [675 + 480 / 3, 482 / 3], radius: [0, 431 / 3] }
    ],
    radiusAxis: [p0.radius, p1.radius],
    angleAxis: [p0.angle, p1.angle],
    series,
    graphic: panelLabels.map((label, i) => ({
      type: "group", x: rects[i][0] + 24, y: rects[i][1] + 24, z: 100,
      children: [
        { type: "circle", shape: { cx: 0, cy: 0, r: 12 }, style: { fill: "#ffffff", stroke: "#2b2b2b", lineWidth: 0.8 } },
        { type: "text", style: { x: 0, y: 0.5, text: label, fill: "#111111", font: "700 14px Inter, Roboto, sans-serif", textAlign: "center", textVerticalAlign: "middle" } }
      ]
    }))
  };
}

export default function App() {
  const ref = useRef<HTMLDivElement>(null);
  useEffect(() => {
    document.body.style.margin = "0";
    document.body.style.overflow = "hidden";
    const chart = echarts.init(ref.current!, undefined, { renderer: "svg" });
    chart.setOption(buildOption() as any);
    return () => chart.dispose();
  }, []);
  return <div ref={ref} style={{ position: "absolute", left: 0, top: 0, width: 985, height: 650 }} />;
}
